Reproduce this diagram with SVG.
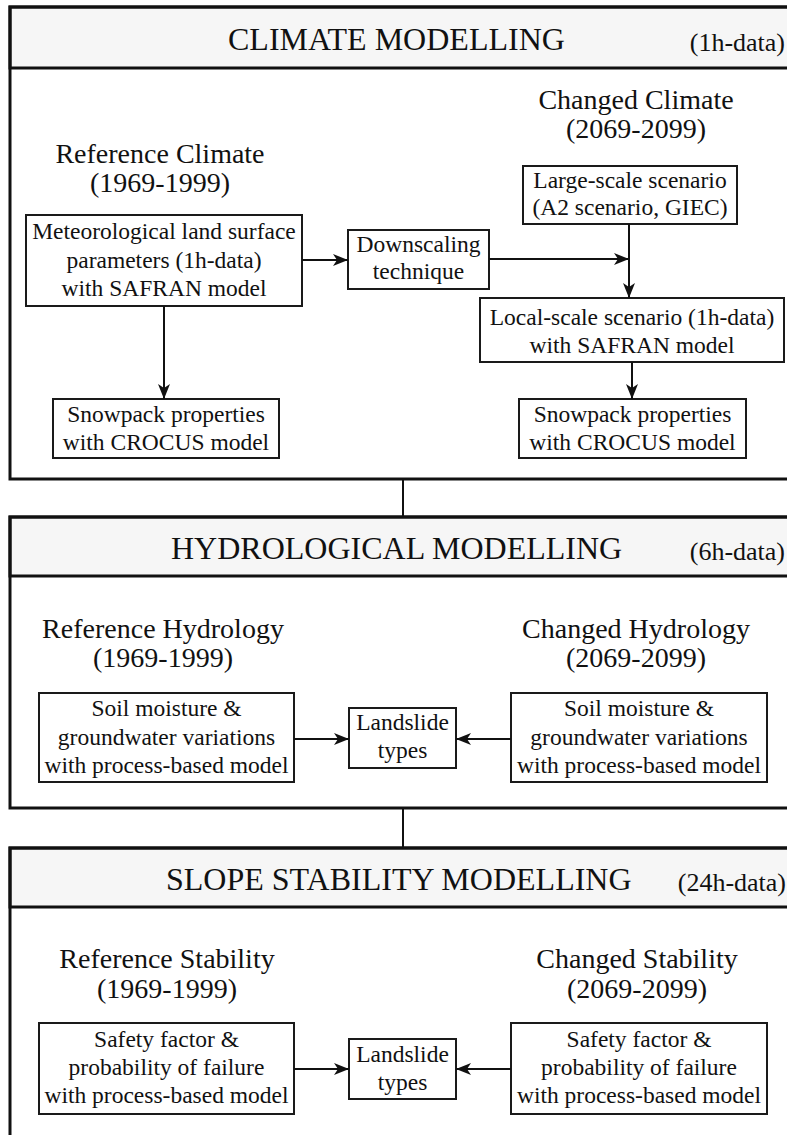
<svg xmlns="http://www.w3.org/2000/svg" width="787" height="1135" viewBox="0 0 787 1135">
<style>
.frame{fill:none;stroke:#111;stroke-width:3}
.band{fill:#f6f6f6;stroke:#111;stroke-width:3}
.box{fill:#fff;stroke:#1a1a1a;stroke-width:2}
.hdr{font-family:"Liberation Serif","Times New Roman",serif;font-size:32px;fill:#111}
.dat{font-family:"Liberation Serif","Times New Roman",serif;font-size:26px;fill:#111}
.ttl{font-family:"Liberation Serif","Times New Roman",serif;font-size:28px;fill:#111;text-anchor:middle}
.txt{font-family:"Liberation Serif","Times New Roman",serif;font-size:23.5px;fill:#111;text-anchor:middle}
.ln{fill:none;stroke:#111;stroke-width:2}
</style>
<defs>
<marker id="ah" markerUnits="userSpaceOnUse" markerWidth="16" markerHeight="12" refX="15" refY="6" orient="auto">
<path d="M0,0 L15,6 L0,12 L4,6 z" fill="#111"/>
</marker>
</defs>
<rect width="787" height="1135" fill="#fff"/>

<g id="climate-section">
<rect class="band" x="10" y="7" width="800" height="61"/>
<rect class="frame" x="10" y="7" width="800" height="472"/>
<text class="hdr" x="228" y="50">CLIMATE MODELLING</text>
<text class="dat" x="785" y="51" text-anchor="end">(1h-data)</text>
<text class="ttl" x="160" y="163">Reference Climate</text>
<text class="ttl" x="160" y="192">(1969-1999)</text>
<text class="ttl" x="636" y="109">Changed Climate</text>
<text class="ttl" x="636" y="138">(2069-2099)</text>
</g>

<g id="met-params">
<rect class="box" x="26" y="215" width="276" height="91"/>
<text class="txt" x="164" y="239">Meteorological land surface</text>
<text class="txt" x="164" y="268">parameters (1h-data)</text>
<text class="txt" x="164" y="296">with SAFRAN model</text>
</g>

<g id="downscaling">
<rect class="box" x="348" y="230" width="141" height="59"/>
<text class="txt" x="418.5" y="252">Downscaling</text>
<text class="txt" x="418.5" y="279">technique</text>
</g>

<g id="large-scale">
<rect class="box" x="523" y="166" width="214" height="58"/>
<text class="txt" x="630" y="188">Large-scale scenario</text>
<text class="txt" x="630" y="215">(A2 scenario, GIEC)</text>
</g>

<g id="local-scale">
<rect class="box" x="480" y="298" width="304" height="64"/>
<text class="txt" x="632" y="325">Local-scale scenario (1h-data)</text>
<text class="txt" x="632" y="353">with SAFRAN model</text>
</g>

<g id="snow-ref">
<rect class="box" x="53" y="399" width="226" height="59"/>
<text class="txt" x="166" y="422">Snowpack properties</text>
<text class="txt" x="166" y="450">with CROCUS model</text>
</g>

<g id="snow-changed">
<rect class="box" x="519" y="399" width="227" height="59"/>
<text class="txt" x="632.5" y="422">Snowpack properties</text>
<text class="txt" x="632.5" y="450">with CROCUS model</text>
</g>

<g id="hydro-section">
<rect class="band" x="10" y="517" width="800" height="59"/>
<rect class="frame" x="10" y="517" width="800" height="291"/>
<text class="hdr" x="171" y="559">HYDROLOGICAL MODELLING</text>
<text class="dat" x="785" y="560" text-anchor="end">(6h-data)</text>
<text class="ttl" x="163" y="638">Reference Hydrology</text>
<text class="ttl" x="163" y="667">(1969-1999)</text>
<text class="ttl" x="636" y="638">Changed Hydrology</text>
<text class="ttl" x="636" y="667">(2069-2099)</text>
</g>

<g id="hydro-ref">
<rect class="box" x="39" y="693" width="255" height="89"/>
<text class="txt" x="166.5" y="716">Soil moisture &amp;</text>
<text class="txt" x="166.5" y="745">groundwater variations</text>
<text class="txt" x="166.5" y="773">with process-based model</text>
</g>

<g id="hydro-landslide">
<rect class="box" x="349" y="708" width="107" height="60"/>
<text class="txt" x="402.5" y="730">Landslide</text>
<text class="txt" x="402.5" y="758">types</text>
</g>

<g id="hydro-changed">
<rect class="box" x="511" y="693" width="256" height="89"/>
<text class="txt" x="639" y="716">Soil moisture &amp;</text>
<text class="txt" x="639" y="745">groundwater variations</text>
<text class="txt" x="639" y="773">with process-based model</text>
</g>

<g id="slope-section">
<rect class="band" x="10" y="848" width="800" height="59"/>
<rect class="frame" x="10" y="848" width="800" height="300"/>
<text class="hdr" x="166" y="890">SLOPE STABILITY MODELLING</text>
<text class="dat" x="786" y="891" text-anchor="end">(24h-data)</text>
<text class="ttl" x="167" y="968">Reference Stability</text>
<text class="ttl" x="167" y="998">(1969-1999)</text>
<text class="ttl" x="637" y="968">Changed Stability</text>
<text class="ttl" x="637" y="998">(2069-2099)</text>
</g>

<g id="slope-ref">
<rect class="box" x="39" y="1023" width="255" height="91"/>
<text class="txt" x="166.5" y="1047">Safety factor &amp;</text>
<text class="txt" x="166.5" y="1075">probability of failure</text>
<text class="txt" x="166.5" y="1103">with process-based model</text>
</g>

<g id="slope-landslide">
<rect class="box" x="349" y="1039" width="107" height="60"/>
<text class="txt" x="402.5" y="1062">Landslide</text>
<text class="txt" x="402.5" y="1090">types</text>
</g>

<g id="slope-changed">
<rect class="box" x="511" y="1023" width="256" height="91"/>
<text class="txt" x="639" y="1047">Safety factor &amp;</text>
<text class="txt" x="639" y="1075">probability of failure</text>
<text class="txt" x="639" y="1103">with process-based model</text>
</g>

<g id="connectors">
<line class="ln" x1="302" y1="260" x2="348" y2="260" marker-end="url(#ah)"/>
<line class="ln" x1="489" y1="259" x2="629" y2="259" marker-end="url(#ah)"/>
<line class="ln" x1="629" y1="224" x2="629" y2="298" marker-end="url(#ah)"/>
<line class="ln" x1="164" y1="306" x2="164" y2="399" marker-end="url(#ah)"/>
<line class="ln" x1="632" y1="362" x2="632" y2="399" marker-end="url(#ah)"/>
<line class="ln" x1="403" y1="479" x2="403" y2="517"/>
<line class="ln" x1="294" y1="739" x2="349" y2="739" marker-end="url(#ah)"/>
<line class="ln" x1="511" y1="739" x2="456" y2="739" marker-end="url(#ah)"/>
<line class="ln" x1="403" y1="808" x2="403" y2="848"/>
<line class="ln" x1="294" y1="1069" x2="349" y2="1069" marker-end="url(#ah)"/>
<line class="ln" x1="511" y1="1069" x2="456" y2="1069" marker-end="url(#ah)"/>
</g>
</svg>
